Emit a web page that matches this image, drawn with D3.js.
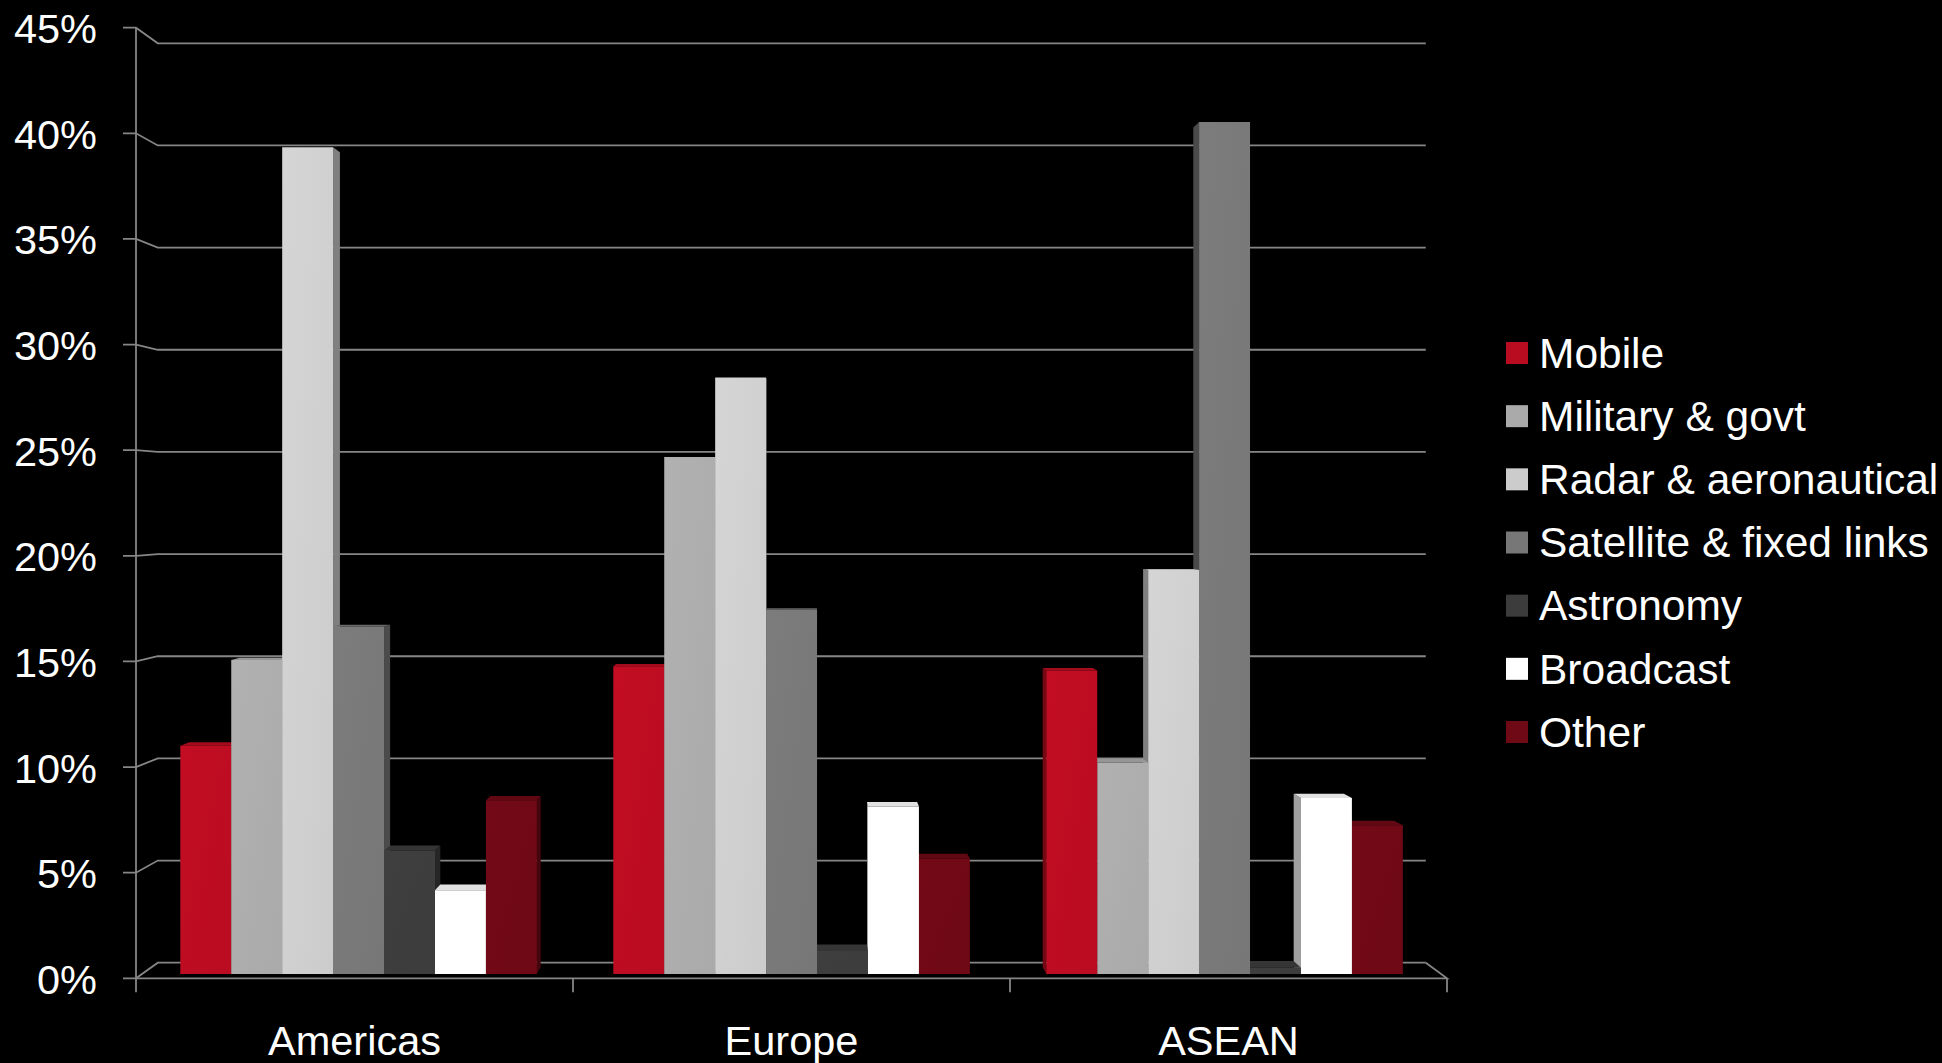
<!DOCTYPE html>
<html><head><meta charset="utf-8">
<script src="https://cdn.jsdelivr.net/npm/d3@7"></script>
<style>html,body{margin:0;padding:0;background:#000;overflow:hidden}</style>
</head><body><svg id="chart" width="1942" height="1063"></svg>
<script>
// ---- data ----
const categories = ["Americas", "Europe", "ASEAN"];
const seriesNames = ["Mobile", "Military & govt", "Radar & aeronautical", "Satellite & fixed links", "Astronomy", "Broadcast", "Other"];
const mobile    = [10.9, 14.7, 14.5];
const military  = [15.0, 24.7, 10.1];
const radar     = [39.5, 28.5, 19.3];
const satellite = [16.6, 17.4, 40.7];
const astronomy = [5.9, 1.1, 0.3];
const broadcast = [4.0, 8.0, 8.4];
const other     = [8.3, 5.5, 7.1];
const yTicks = [0, 5, 10, 15, 20, 25, 30, 35, 40, 45];
const seriesColors = ["#BA0C21", "#AAAAAA", "#CCCCCC", "#777777", "#3C3C3C", "#FFFFFF", "#6E0915"];

const seriesValues = [mobile, military, radar, satellite, astronomy, broadcast, other];

// ---- layout ----
const W = 1942, H = 1063;
const plot = {left: 136, right: 1447, top: 27.7, bottom: 978.3};
const V = {x: 800, y: 503};        // vanishing point of the perspective
const shrink = 0.0328;             // scale loss from front (z=0) to back wall (z=1)
const zF = 0.28, zB = 0.72;        // bar depth range
const FONT = "'Liberation Sans', Arial, sans-serif";
const grid = "#868686";

function proj(x, y, z) { const s = 1 - shrink * z; return [V.x + s * (x - V.x), V.y + s * (y - V.y)]; }

const svg = d3.select("#chart");
svg.append("rect").attr("width", W).attr("height", H).attr("fill", "#000");

const x = d3.scaleBand().domain(categories).range([plot.left, plot.right]).padding(0);
const xi = d3.scaleBand().domain(d3.range(seriesNames.length)).range([0, x.bandwidth()]).paddingInner(0).paddingOuter(0.75);
const y = d3.scaleLinear().domain([0, 45]).range([plot.bottom, plot.top]);

const line = d3.line();

// gradients
const defs = svg.append("defs");
seriesColors.forEach((c, j) => {
  const g = defs.append("linearGradient").attr("id", "g" + j).attr("x1", 0).attr("y1", 0).attr("x2", 1).attr("y2", 1);
  g.append("stop").attr("offset", "0%").attr("stop-color", d3.color(c).brighter(0.12).formatHex());
  g.append("stop").attr("offset", "100%").attr("stop-color", c);
});

// ---- walls / gridlines ----
const gG = svg.append("g").attr("fill", "none").attr("stroke", grid).attr("stroke-width", 1.8);
yTicks.forEach(t => {
  const yy = y(t);
  const bl = proj(plot.left, yy, 1), br = proj(plot.right, yy, 1);
  gG.append("path").attr("d", line([[plot.left - 13, yy], [plot.left, yy], bl, br]));
});
// floor right edge and front edge
{
  const br = proj(plot.right, y(0), 1);
  gG.append("path").attr("d", line([br, [plot.right, y(0)], [plot.left, y(0)]]));
}
// vertical axis
gG.append("path").attr("d", line([[plot.left, y(45)], [plot.left, y(0)]]));
// category ticks
const bounds = categories.map(c => x(c)).concat([plot.right]);
bounds.forEach(b => gG.append("path").attr("d", line([[b, y(0)], [b, y(0) + 14]])));

// ---- bars ----
const bars = [];
categories.forEach((cat, i) => {
  seriesValues.forEach((vals, j) => {
    const x0 = x(cat) + xi(j), x1 = x0 + xi.bandwidth();
    bars.push({i, j, x0, x1, yt: y(vals[i]), yb: y(0), v: vals[i]});
  });
});
bars.sort((a, b) => Math.abs((b.x0 + b.x1) / 2 - V.x) - Math.abs((a.x0 + a.x1) / 2 - V.x));

const bG = svg.append("g");
bars.forEach(b => {
  const c = seriesColors[b.j];
  const side = d3.color(c).darker(1.3).formatHex();
  const top = d3.color(c).darker(0.35).formatHex();
  const g = bG.append("g");
  if (b.x1 < V.x) {
    g.append("path").attr("fill", side).attr("d", line([proj(b.x1, b.yt, zF), proj(b.x1, b.yt, zB), proj(b.x1, b.yb, zB), proj(b.x1, b.yb, zF)]) + "Z");
  } else if (b.x0 > V.x) {
    g.append("path").attr("fill", side).attr("d", line([proj(b.x0, b.yt, zF), proj(b.x0, b.yt, zB), proj(b.x0, b.yb, zB), proj(b.x0, b.yb, zF)]) + "Z");
  }
  if (b.yt > V.y) {
    g.append("path").attr("fill", top).attr("d", line([proj(b.x0, b.yt, zF), proj(b.x1, b.yt, zF), proj(b.x1, b.yt, zB), proj(b.x0, b.yt, zB)]) + "Z");
  }
  g.append("path").attr("fill", `url(#g${b.j})`).attr("d", line([proj(b.x0, b.yt, zF), proj(b.x1, b.yt, zF), proj(b.x1, b.yb, zF), proj(b.x0, b.yb, zF)]) + "Z");
});

// ---- axis labels ----
svg.append("g").selectAll("text").data(yTicks).join("text")
  .attr("x", 97).attr("y", d => y(d) + 15.5)
  .attr("text-anchor", "end").attr("fill", "#fff")
  .style("font-family", FONT).style("font-size", "41.5px")
  .text(d => d + "%");

svg.append("g").selectAll("text").data(categories).join("text")
  .attr("x", d => x(d) + x.bandwidth() / 2).attr("y", 1055)
  .attr("text-anchor", "middle").attr("fill", "#fff")
  .style("font-family", FONT).style("font-size", "41.5px")
  .text(d => d);

// ---- legend ----
const leg = svg.append("g");
const legY = d3.scalePoint().domain(seriesNames).range([353, 732]);
seriesNames.forEach((n, j) => {
  const cy = legY(n);
  leg.append("rect").attr("x", 1506).attr("y", cy - 11).attr("width", 22).attr("height", 22).attr("fill", seriesColors[j]);
  leg.append("text").attr("x", 1539).attr("y", cy + 14.7).attr("fill", "#fff")
    .style("font-family", FONT).style("font-size", "42.5px").text(n);
});
</script>
</body></html>
